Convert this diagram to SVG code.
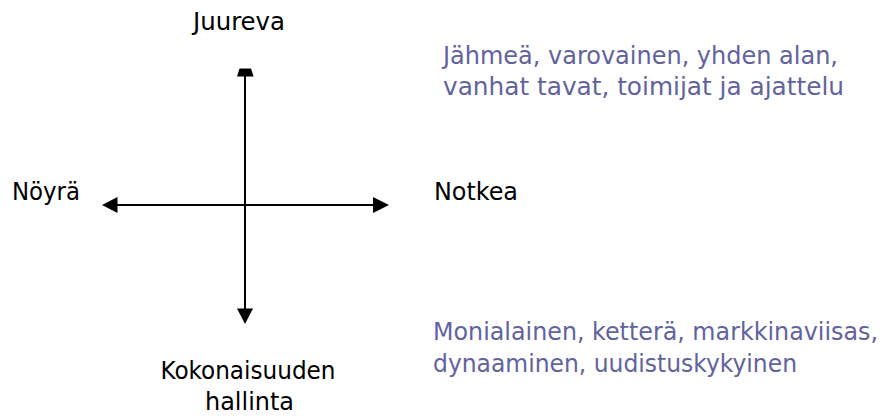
<svg xmlns="http://www.w3.org/2000/svg" width="883" height="416" viewBox="0 0 883 416">
<style>
.lbl{font-family:"DejaVu Sans Condensed","DejaVu Sans","Liberation Sans",sans-serif;font-size:24px;fill:#000}
.desc{font-family:"DejaVu Sans Condensed","DejaVu Sans","Liberation Sans",sans-serif;font-size:25px;fill:#62639e}
.ax{stroke:#000;stroke-width:2;fill:none}
.hd{fill:#000}
</style>
<rect width="883" height="416" fill="#fff"/>
<g id="connectors">
<line class="ax" x1="245" y1="74" x2="245" y2="312"/>
<line class="ax" x1="112" y1="205" x2="378" y2="205"/>
<polygon class="hd" points="239.5,68.5 251,68.5 253.5,76.5 237,76.5"/>
<polygon class="hd" points="237,308.5 253,308.5 245,324"/>
<polygon class="hd" points="102,205 117.5,197 117.5,213"/>
<polygon class="hd" points="389,205 373,197 373,213"/>
</g>
<g id="top"><text class="lbl" x="239" y="30" text-anchor="middle" textLength="92" lengthAdjust="spacingAndGlyphs">Juureva</text></g>
<g id="left"><text class="lbl" x="12" y="200" textLength="68" lengthAdjust="spacingAndGlyphs">Nöyrä</text></g>
<g id="right"><text class="lbl" x="434" y="200" textLength="84" lengthAdjust="spacingAndGlyphs">Notkea</text></g>
<g id="bottom">
<text class="lbl" x="248" y="379" text-anchor="middle" textLength="175" lengthAdjust="spacingAndGlyphs">Kokonaisuuden</text>
<text class="lbl" x="249.5" y="410" text-anchor="middle" textLength="89" lengthAdjust="spacingAndGlyphs">hallinta</text>
</g>
<g id="desc-top">
<text class="desc" x="443" y="64" textLength="395" lengthAdjust="spacingAndGlyphs">Jähmeä, varovainen, yhden alan,</text>
<text class="desc" x="443" y="95" textLength="401" lengthAdjust="spacingAndGlyphs">vanhat tavat, toimijat ja ajattelu</text>
</g>
<g id="desc-bottom">
<text class="desc" x="433" y="340" textLength="445" lengthAdjust="spacingAndGlyphs">Monialainen, ketterä, markkinaviisas,</text>
<text class="desc" x="433" y="372" textLength="364" lengthAdjust="spacingAndGlyphs">dynaaminen, uudistuskykyinen</text>
</g>
</svg>
